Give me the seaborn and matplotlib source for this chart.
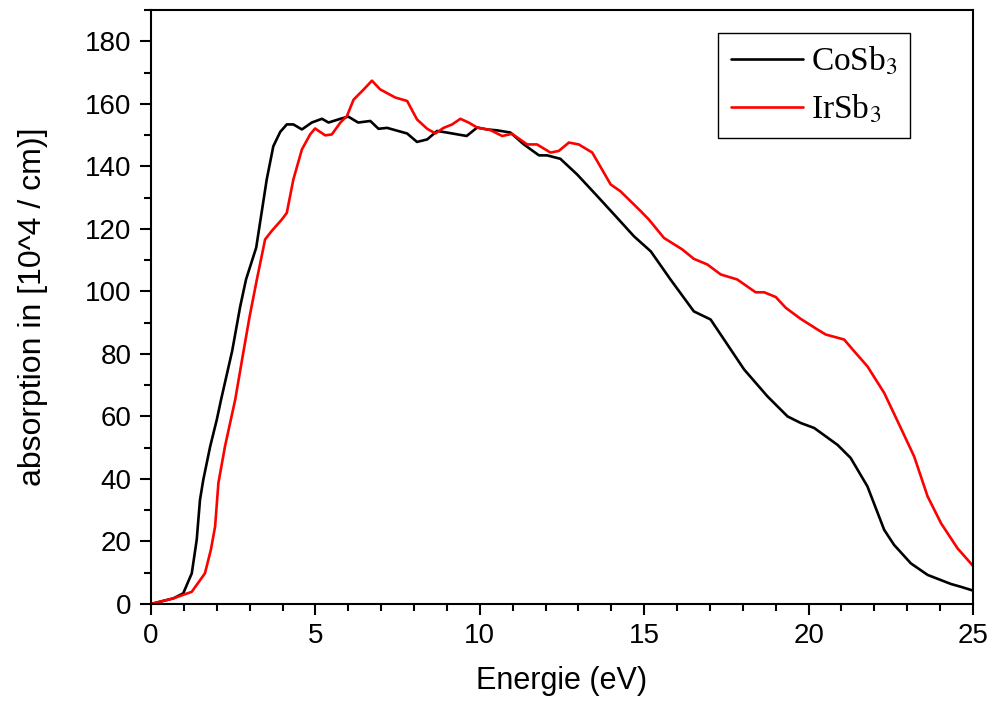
import numpy as np
import pandas as pd
import matplotlib
matplotlib.use("Agg")
import matplotlib.pyplot as plt
import seaborn as sns
from matplotlib.ticker import MultipleLocator

# CoSb3 (black)
co_energy = [0.0, 0.68, 0.98, 1.24, 1.39, 1.49, 1.59, 1.8, 2.0, 2.13, 2.47, 2.71, 2.89, 3.2,
             3.52, 3.72, 3.93, 4.13, 4.33, 4.59, 4.89, 5.2, 5.4, 5.76, 6.0, 6.3, 6.67, 6.92,
             7.18, 7.79, 8.09, 8.4, 8.7, 9.0, 9.6, 9.92, 10.22, 10.53, 10.93, 11.34, 11.8,
             12.05, 12.45, 12.96, 13.57, 14.18, 14.69, 15.2, 15.8, 16.51, 17.02, 17.53, 18.04,
             18.75, 19.36, 19.76, 20.17, 20.88, 21.28, 21.79, 22.3, 22.6, 23.11, 23.62, 24.33,
             24.63, 25.0]
co_abs = [0.0, 1.8, 3.4, 9.8, 20.5, 33.3, 39.7, 50.4, 58.9, 65.3, 81.0, 95.0, 103.8, 114.0,
          135.8, 146.4, 151.0, 153.4, 153.4, 151.8, 154.0, 155.2, 154.0, 155.2, 155.9, 154.0,
          154.5, 152.0, 152.3, 150.5, 147.8, 148.6, 151.3, 150.8, 149.7, 152.4, 151.8, 151.5,
          150.8, 147.0, 143.5, 143.5, 142.4, 137.4, 130.5, 123.5, 117.6, 112.8, 103.8, 93.6,
          91.0, 83.0, 75.0, 66.4, 60.0, 57.9, 56.3, 50.9, 46.7, 37.6, 23.7, 18.9, 13.0, 9.3,
          6.4, 5.5, 4.3]

# IrSb3 (red)
ir_energy = [0.0, 0.68, 1.24, 1.64, 1.82, 1.95, 2.05, 2.25, 2.56, 2.8, 3.0, 3.22, 3.47, 3.67,
             3.98, 4.13, 4.33, 4.59, 4.84, 4.99, 5.3, 5.5, 5.76, 5.96, 6.16, 6.47, 6.72, 6.97,
             7.43, 7.79, 8.09, 8.4, 8.65, 8.9, 9.16, 9.41, 9.66, 9.92, 10.32, 10.68, 10.98,
             11.44, 11.74, 12.15, 12.4, 12.71, 13.01, 13.42, 13.98, 14.28, 14.89, 15.14, 15.6,
             16.16, 16.51, 16.92, 17.33, 17.83, 18.39, 18.65, 19.0, 19.31, 19.76, 20.27, 20.52,
             21.08, 21.39, 21.79, 22.3, 22.71, 23.21, 23.62, 24.03, 24.53, 25.0]
ir_abs = [0.0, 1.8, 3.9, 9.8, 17.3, 24.8, 38.7, 50.4, 65.3, 80.0, 92.0, 103.8, 116.6, 119.3,
          123.0, 125.1, 135.8, 145.4, 150.2, 152.1, 149.9, 150.2, 154.0, 156.1, 161.3, 164.6,
          167.4, 164.6, 162.0, 160.9, 155.0, 152.0, 150.5, 152.3, 153.4, 155.2, 154.0, 152.4,
          151.6, 149.7, 150.4, 147.0, 147.0, 144.4, 144.9, 147.6, 147.0, 144.4, 134.2, 132.0,
          125.7, 123.0, 117.1, 113.4, 110.4, 108.6, 105.4, 103.8, 99.7, 99.7, 98.2, 94.7,
          91.2, 87.8, 86.2, 84.6, 80.8, 76.0, 67.5, 58.4, 47.2, 34.4, 25.8, 17.8, 12.2]

series_names = ["CoSb$_3$", "IrSb$_3$"]
series_colors = ["#000000", "#ff0000"]

df = pd.concat([
    pd.DataFrame({"energy": co_energy, "absorption": co_abs, "material": series_names[0]}),
    pd.DataFrame({"energy": ir_energy, "absorption": ir_abs, "material": series_names[1]}),
])

sns.set_style("ticks")
plt.rcParams["font.family"] = ["Liberation Sans", "DejaVu Sans"]
plt.rcParams["mathtext.fontset"] = "stix"
plt.rcParams["text.color"] = "black"
plt.rcParams["axes.labelcolor"] = "black"

fig = plt.figure(figsize=(9.96, 7.09), dpi=100)
ax = fig.add_axes([0.1516, 0.1481, 0.8253, 0.8378])

sns.lineplot(data=df, x="energy", y="absorption", hue="material",
             palette=dict(zip(series_names, series_colors)), linewidth=1.9,
             ax=ax, sort=False, estimator=None)

ax.set_xlim(0, 25)
ax.set_ylim(0, 190)
ax.xaxis.set_major_locator(MultipleLocator(5))
ax.xaxis.set_minor_locator(MultipleLocator(1))
ax.yaxis.set_major_locator(MultipleLocator(20))
ax.yaxis.set_minor_locator(MultipleLocator(10))
ax.tick_params(which="major", direction="out", length=8, width=1.5, labelsize=20,
               colors="black", pad=6)
ax.tick_params(which="minor", direction="out", length=5, width=1.5, colors="black")
for s in ax.spines.values():
    s.set_linewidth(1.5)
    s.set_color("black")

ax.set_xlabel("Energie (eV)", fontsize=22, labelpad=12)
ax.set_ylabel("absorption in [10^4 / cm)]", fontsize=23, labelpad=27)

leg = ax.legend(loc="upper left", bbox_to_anchor=(0.69, 0.962), frameon=True,
                fancybox=False, edgecolor="black", framealpha=1,
                prop={"family": ["Liberation Serif"], "size": 24},
                handlelength=2.15, handletextpad=0.25, borderpad=0.38,
                labelspacing=0.45, borderaxespad=0)
leg.get_frame().set_linewidth(1.0)
for line in leg.get_lines():
    line.set_linewidth(1.9)

fig.savefig("out.png", dpi=100)
